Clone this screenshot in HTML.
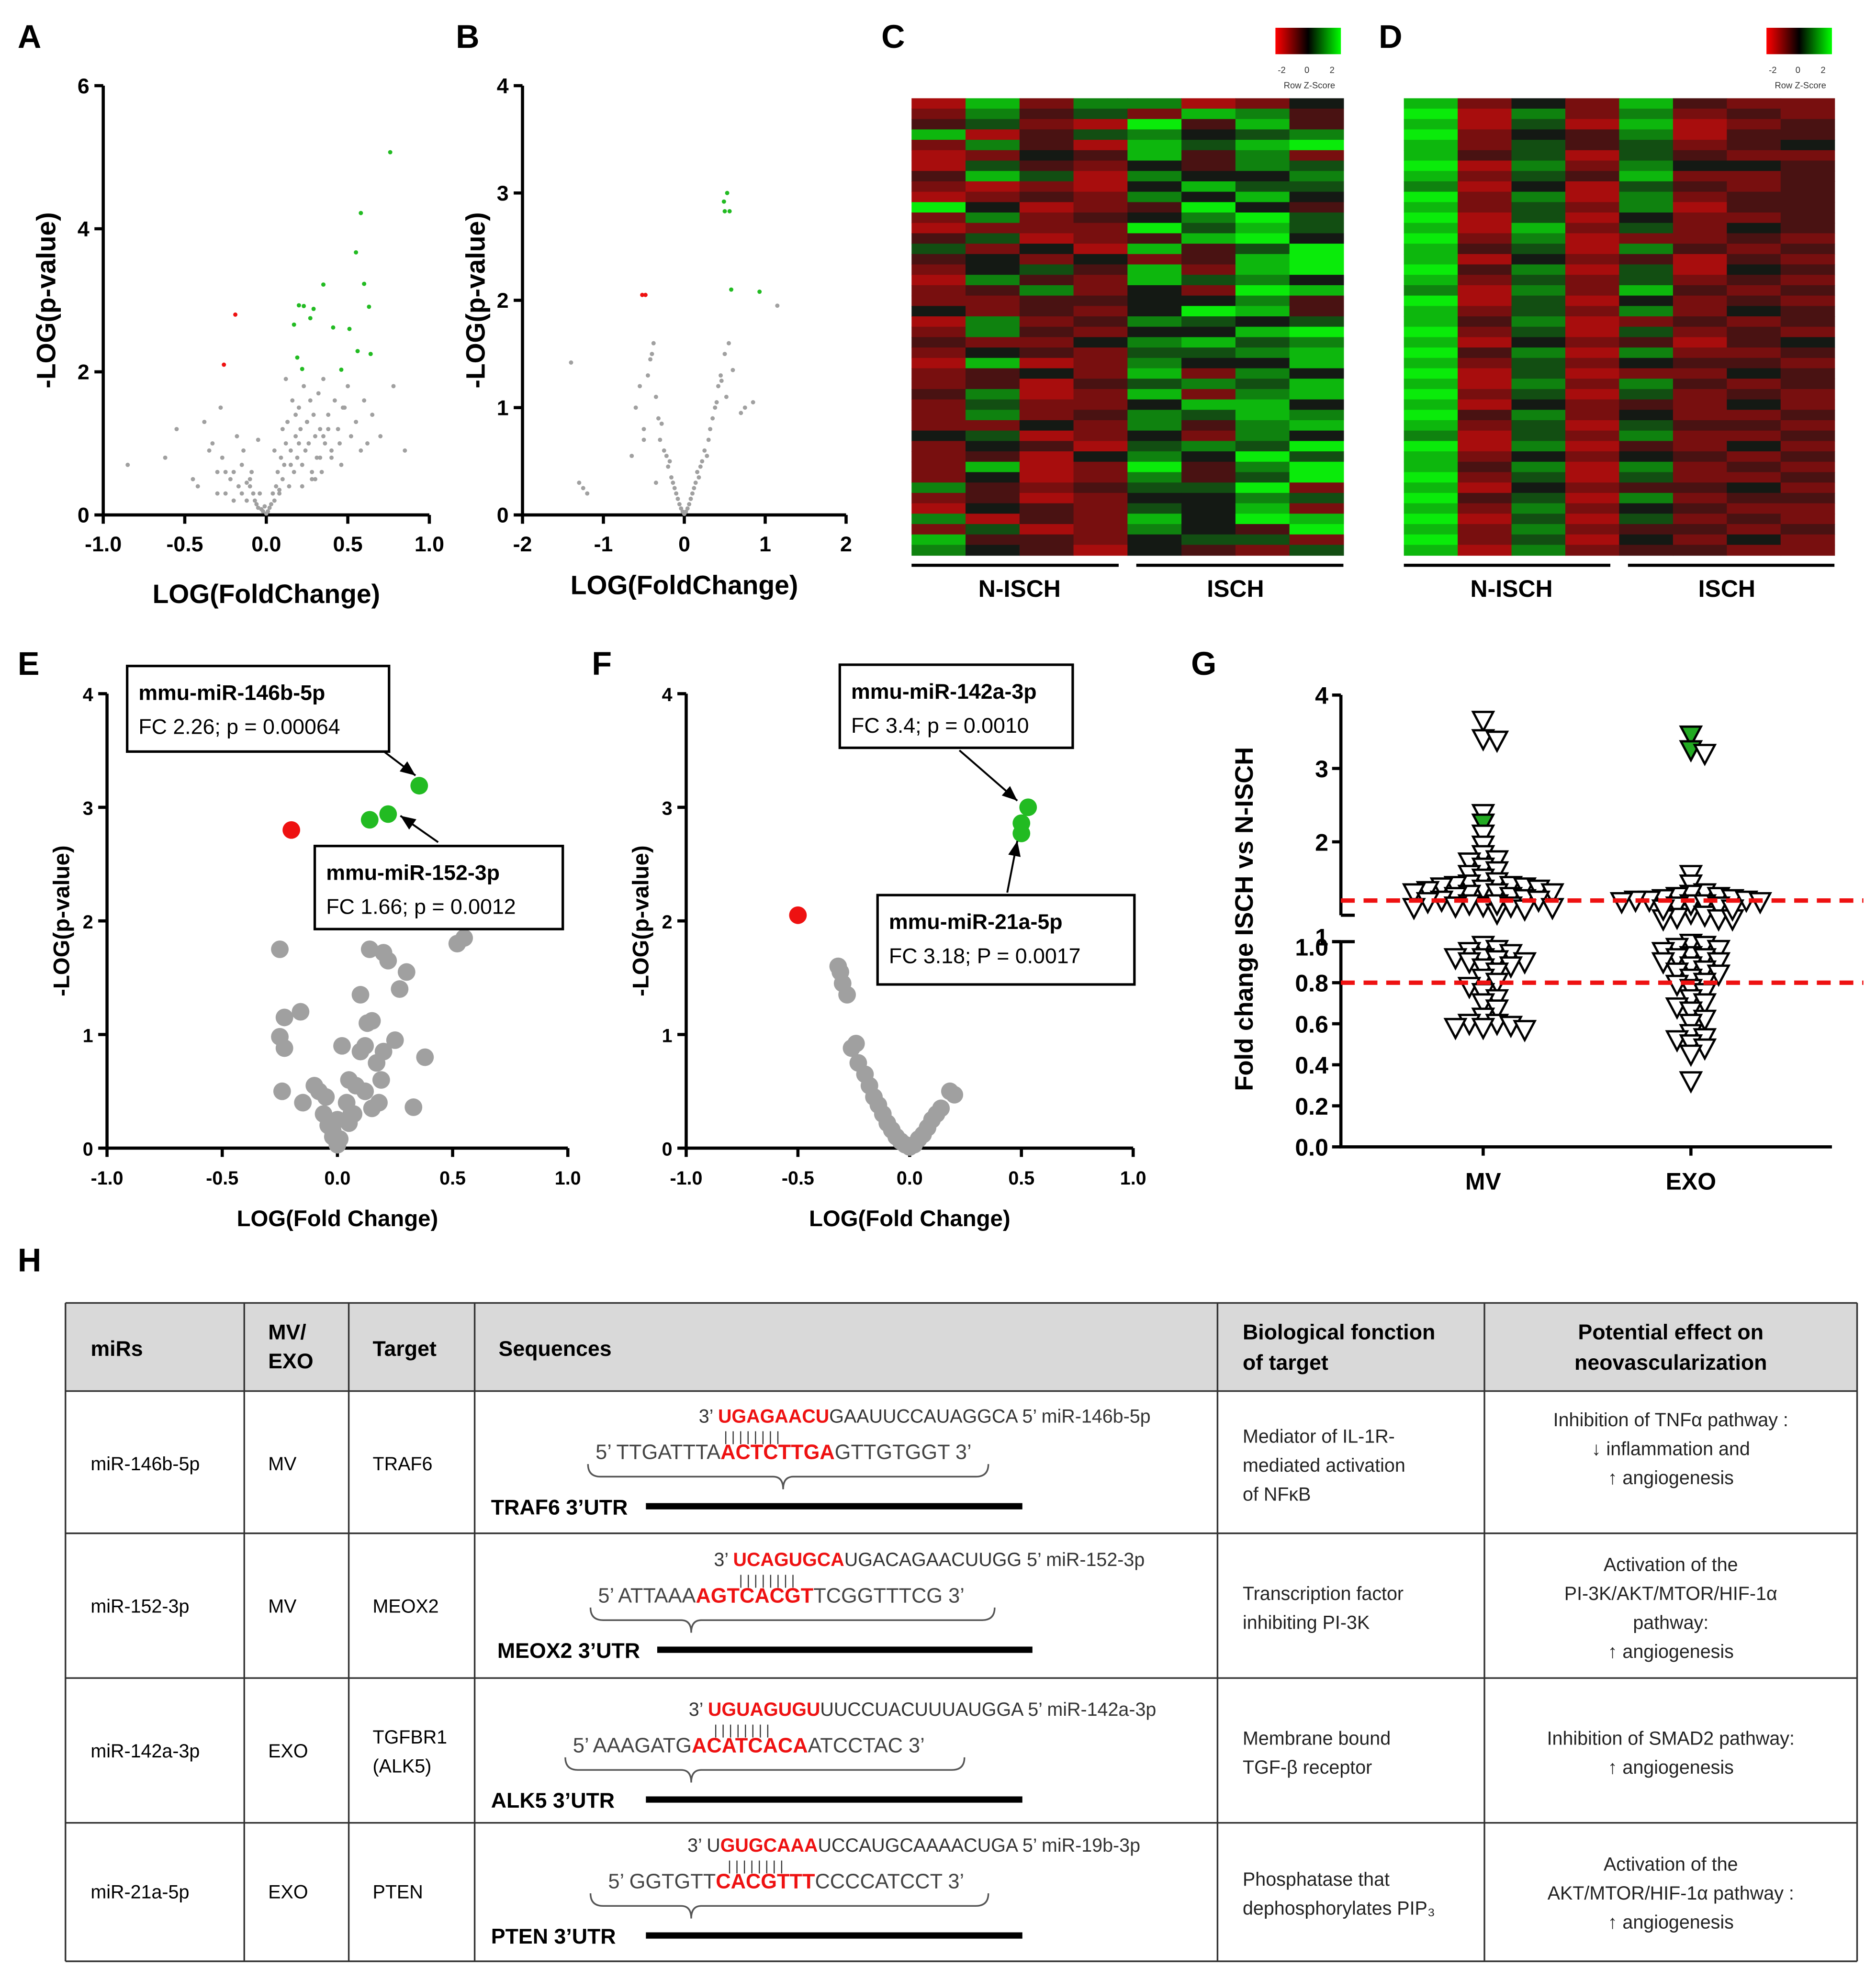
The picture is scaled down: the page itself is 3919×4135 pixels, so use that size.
<!DOCTYPE html>
<html><head><meta charset="utf-8">
<style>
html,body{margin:0;padding:0;background:#fff;}
svg{display:block;font-family:"Liberation Sans",Arial,sans-serif;}
</style></head>
<body>
<svg id="fig" width="3919" height="4135" viewBox="0 0 1490 1572" xmlns="http://www.w3.org/2000/svg"></svg>
<script>
// ---------- DATA ----------
const aGrayX=[-0.85,-0.62,-0.55,-0.45,-0.42,-0.38,-0.35,-0.33,-0.3,-0.28,-0.27,-0.25,-0.22,-0.2,-0.18,-0.17,-0.15,-0.14,-0.12,-0.1,-0.09,-0.08,-0.07,-0.06,-0.05,-0.04,-0.03,-0.02,-0.01,0,0.01,0.02,0.03,0.04,0.05,0.06,0.07,0.08,0.09,0.1,0.11,0.12,0.13,0.14,0.15,0.16,0.17,0.18,0.19,0.2,0.21,0.22,0.23,0.24,0.25,0.26,0.27,0.28,0.29,0.3,0.31,0.32,0.33,0.34,0.35,0.36,0.38,0.4,0.42,0.44,0.46,0.48,0.5,0.52,0.55,0.58,0.6,0.62,0.65,0.7,0.78,0.85,-0.3,-0.25,-0.2,-0.15,-0.1,0.05,0.1,0.15,0.2,0.25,0.3,0.35,0.4,0.45,0.12,0.18,0.22,0.28,0.08,-0.05,-0.12,0.33,0.38,0.47];
const aGrayY=[0.7,0.8,1.2,0.5,0.4,1.3,0.9,1.0,0.6,1.5,0.8,0.3,0.5,0.6,1.1,0.4,0.3,0.9,0.2,0.4,0.6,0.3,0.2,0.15,0.1,0.3,0.08,0.05,0.12,0.02,0.05,0.1,0.15,0.3,0.2,0.4,0.6,0.3,0.8,0.5,0.7,1.0,1.3,0.4,0.9,1.6,0.6,1.1,0.8,1.5,1.2,0.7,1.8,0.9,1.3,1.0,1.6,0.5,1.4,1.1,0.8,1.7,1.2,0.6,1.9,1.0,1.4,0.9,1.6,1.2,0.7,1.5,1.8,1.1,1.3,0.9,1.6,1.0,1.4,1.1,1.8,0.9,0.3,0.6,0.2,0.7,0.5,0.9,1.2,0.7,1.0,1.3,0.5,1.1,0.8,1.0,1.9,1.4,0.4,0.6,0.35,1.05,0.45,0.8,1.2,1.5];
const aGreenX=[0.76,0.58,0.55,0.60,0.35,0.63,0.29,0.20,0.23,0.27,0.17,0.51,0.41,0.19,0.22,0.56,0.64,0.46];
const aGreenY=[5.07,4.22,3.67,3.23,3.22,2.91,2.88,2.93,2.92,2.75,2.66,2.60,2.62,2.20,2.04,2.29,2.25,2.03];
const aRedX=[-0.19,-0.26];
const aRedY=[2.80,2.10];

const bGrayX=[-1.4,-1.3,-1.25,-1.2,-0.65,-0.6,-0.55,-0.5,-0.45,-0.4,-0.38,-0.35,-0.32,-0.3,-0.28,-0.25,-0.22,-0.2,-0.18,-0.16,-0.14,-0.12,-0.1,-0.08,-0.06,-0.04,-0.02,0,0.02,0.04,0.06,0.08,0.1,0.12,0.14,0.16,0.18,0.2,0.22,0.25,0.28,0.3,0.32,0.35,0.38,0.4,0.42,0.45,0.5,0.55,0.6,0.7,0.75,0.85,1.15,-0.5,-0.42,0.46,0.52,-0.35];
const bGrayY=[1.42,0.3,0.25,0.2,0.55,1.0,1.2,0.8,1.3,1.5,1.6,1.1,0.9,0.7,0.85,0.6,0.55,0.45,0.5,0.35,0.3,0.25,0.2,0.15,0.1,0.06,0.03,0.01,0.03,0.06,0.1,0.15,0.2,0.25,0.3,0.4,0.35,0.45,0.5,0.6,0.55,0.7,0.8,0.9,1.0,1.05,1.2,1.3,1.5,1.6,1.35,0.95,1.0,1.05,1.95,0.7,1.45,1.25,1.1,0.3];
const bGreenX=[0.53,0.49,0.50,0.56,0.58,0.93];
const bGreenY=[3.00,2.92,2.83,2.83,2.10,2.08];
const bRedX=[-0.52,-0.48];
const bRedY=[2.05,2.05];

// heatmap rows: digits 0..8 => z = (d-4)/2 (0 red, 4 black, 8 green)
const heatC=["17266124","26352763","35218373","71356456","26317578","12437362","15324365","37516446","21214755","12326474","84123843","26234685","12228575","35123784","52417358","34242378","24537278","16327564","23624287","22334463","42324873","16236545","26324478","32246756","24325567","17126447","23427264","23135657","36127267","25224774","26236576","22426367","45124264","24315658","23146485","27128368","24126358","63235582","23124465","14325472","61327487","25126438","73324552","64314325"];
const heatD=["72427322","81626232","71517123","82436133","72535234","73515322","81626443","72537223","61415323","82616233","72526133","81514223","71725243","82612232","73516323","71423132","83615143","72525232","61627323","81514232","72526243","73612323","82515232","71423134","83616223","72524332","81512243","71626323","82515232","71423242","83624223","72515332","61526223","81613242","72424323","73616232","82515223","71423342","83516233","72624322","81515232","72623323","82514242","71623322"];
const heatCols=8;

const eGrayX=[-0.25,-0.23,-0.25,-0.23,-0.24,-0.16,-0.15,-0.1,-0.08,-0.06,-0.05,-0.04,-0.02,0,0.02,0.04,0.05,0.06,0.08,0.1,0.1,0.12,0.13,0.14,0.15,0.15,0.17,0.18,0.2,0.2,0.22,0.25,0.27,0.3,0.33,0.38,0.55,0.52,0.0,-0.02,0.05,0.07,0.01,0.12,0.19];
const eGrayY=[1.75,1.15,0.98,0.88,0.5,1.2,0.4,0.55,0.5,0.3,0.45,0.2,0.1,0.03,0.9,0.4,0.6,0.3,0.55,0.85,1.35,0.9,1.1,1.75,1.12,0.35,0.75,0.4,1.72,0.85,1.65,0.95,1.4,1.55,0.36,0.8,1.85,1.8,0.25,0.15,0.22,0.3,0.08,0.5,0.6];
const eGreenX=[0.355,0.22,0.14];
const eGreenY=[3.19,2.94,2.89];
const eRedX=[-0.2];
const eRedY=[2.8];

const fGrayX=[-0.32,-0.31,-0.3,-0.28,-0.26,-0.24,-0.23,-0.2,-0.18,-0.16,-0.14,-0.12,-0.1,-0.08,-0.06,-0.04,-0.02,0,0.02,0.04,0.06,0.08,0.1,0.12,0.14,0.18,0.2];
const fGrayY=[1.6,1.55,1.45,1.35,0.88,0.92,0.75,0.65,0.55,0.45,0.38,0.3,0.22,0.16,0.1,0.06,0.03,0.01,0.03,0.08,0.12,0.18,0.25,0.3,0.35,0.5,0.47];
const fGreenX=[0.53,0.50,0.50];
const fGreenY=[3.0,2.86,2.77];
const fRedX=[-0.5];
const fRedY=[2.05];

const gMV=[3.65,3.4,3.38,2.38,2.25,2.1,1.95,1.82,1.75,1.72,1.65,1.6,1.55,1.5,1.45,1.42,1.4,1.4,1.38,1.38,1.35,1.35,1.33,1.3,1.3,1.3,1.28,1.28,1.25,1.25,1.22,1.2,1.2,1.18,1.18,1.15,1.15,1.12,1.12,1.1,1.1,1.08,0.98,0.96,0.95,0.94,0.92,0.92,0.91,0.9,0.9,0.88,0.87,0.85,0.82,0.8,0.78,0.75,0.72,0.7,0.67,0.63,0.6,0.6,0.59,0.58,0.58,0.57];
const gMVGreen=[2.25,1.68];
const gEXO=[3.45,3.25,3.2,1.55,1.42,1.3,1.28,1.25,1.25,1.22,1.22,1.2,1.2,1.2,1.18,1.18,1.18,1.15,1.15,1.15,1.12,1.12,1.12,1.1,1.1,1.1,1.08,1.08,0.99,0.98,0.97,0.96,0.95,0.93,0.92,0.92,0.9,0.9,0.88,0.86,0.85,0.84,0.82,0.8,0.79,0.77,0.75,0.72,0.7,0.68,0.66,0.62,0.6,0.55,0.53,0.52,0.5,0.48,0.45,0.32];
const gEXOGreen=[3.45,3.25];
const gCats=["MV","EXO"];
const gUpperTicks=[1,2,3,4];
const gLowerTicks=[0.0,0.2,0.4,0.6,0.8,1.0];

// ---------- HELPERS ----------
const NS="http://www.w3.org/2000/svg";
const svg=document.getElementById('fig');
function el(tag,attrs,parent){const e=document.createElementNS(NS,tag);for(const k in attrs)e.setAttribute(k,attrs[k]);(parent||svg).appendChild(e);return e;}
function txt(x,y,s,size,weight,anchor,parent,fill){const t=el('text',{x:x,y:y,'font-size':size,'font-weight':weight||'normal','text-anchor':anchor||'start',fill:fill||'#000'},parent);t.textContent=s;return t;}
function grp(name){const g=el('g',{});return g;}

function panelLetter(x,y,s){const t=txt(x,y,s,26,'bold','start');}

function volcano(id,o){
  const g=grp('volcano-plot-'+id);
  const sx=v=>o.x0+(v-o.xmin)/(o.xmax-o.xmin)*(o.x1-o.x0);
  const sy=v=>o.y0-(v-o.ymin)/(o.ymax-o.ymin)*(o.y0-o.y1);
  const ax=el('path',{d:`M${o.x0},${o.y1}V${o.y0}H${o.x1}`,stroke:'#000','stroke-width':2.5,fill:'none'},g);
   
  o.xt.forEach(v=>{el('line',{x1:sx(v),x2:sx(v),y1:o.y0,y2:o.y0+7,stroke:'#000','stroke-width':2.5},g);
    const t=txt(sx(v),o.y0+29,o.xfmt(v),o.tf,'bold','middle',g);});
  o.yt.forEach(v=>{el('line',{x1:o.x0-7,x2:o.x0,y1:sy(v),y2:sy(v),stroke:'#000','stroke-width':2.5},g);
    const t=txt(o.x0-11,sy(v)+6,o.yfmt(v),o.tf,'bold','end',g);});
  const xtit=txt((o.x0+o.x1)/2,o.y0+o.xtoff,o.xtitle,o.af,'bold','middle',g);
  
  const yx=o.x0-o.ytoff, yy=(o.y0+o.y1)/2;
  const ytit=txt(yx,yy,'-LOG(p-value)',o.af,'bold','middle',g);ytit.setAttribute('transform',`rotate(-90 ${yx} ${yy})`);
  
  o.gx.forEach((v,i)=>{const c=el('circle',{cx:sx(v),cy:sy(o.gy[i]),r:o.r,fill:'#a0a0a0'},g);});
  o.rx.forEach((v,i)=>{const c=el('circle',{cx:sx(v),cy:sy(o.ry[i]),r:o.r,fill:'#ee1111'},g);});
  o.grx.forEach((v,i)=>{const c=el('circle',{cx:sx(v),cy:sy(o.gry[i]),r:o.r,fill:'#22bb22'},g);});
  return g;
}
function heatColor(d){const z=(d-4)/2;const t=Math.min(1,Math.abs(z)/2);
  if(z<0)return `rgb(${Math.round(25+190*t)},${Math.round(20-10*t)},${Math.round(20-10*t)})`;
  return `rgb(${Math.round(20-10*t)},${Math.round(25+210*t)},${Math.round(20-10*t)})`;}
function heatmap(id,rows,x0,y0,x1,y1,cbx){
  const g=grp('heatmap-'+id);
  const cw=(x1-x0)/heatCols, ch=(y1-y0)/rows.length;
  rows.forEach((r,ri)=>{for(let ci=0;ci<heatCols;ci++){const c=el('rect',{x:x0+ci*cw,y:y0+ri*ch,width:cw+0.4,height:ch+0.4,fill:heatColor(+r[ci])},g);}});
  const lg=el('defs',{},g);const gr=el('linearGradient',{id:'cb'+id},lg);
  el('stop',{offset:'0',"stop-color":'#ff0000'},gr);el('stop',{offset:'0.5',"stop-color":'#000'},gr);el('stop',{offset:'1',"stop-color":'#00ff00'},gr);
  const cb=el('rect',{x:cbx,y:22,width:52,height:21,fill:`url(#cb${id})`},g);
  ['-2','0','2'].forEach((s,i)=>txt(cbx+5+i*20,58,s,7,'normal','middle',g,'#333'));
  txt(cbx+27,70,'Row Z-Score',7,'normal','middle',g,'#333');
  const mid=(x0+x1)/2;
  el('line',{x1:x0,x2:mid-7,y1:449,y2:449,stroke:'#000','stroke-width':2.5},g);
  el('line',{x1:mid+7,x2:x1,y1:449,y2:449,stroke:'#000','stroke-width':2.5},g);
  const l1=txt((x0+mid)/2,474,'N-ISCH',19,'bold','middle',g);
  const l2=txt((mid+x1)/2,474,'ISCH',19,'bold','middle',g);
}
function callout(g,x,y,w,h,l1,l2,name){
  const r=el('rect',{x:x,y:y,width:w,height:h,fill:'#fff',stroke:'#000','stroke-width':2},g);
  txt(x+9,y+27,l1,17,'bold','start',g);txt(x+9,y+54,l2,17,'normal','start',g);
}
function arrow(g,x1,y1,x2,y2){
  el('line',{x1:x1,y1:y1,x2:x2,y2:y2,stroke:'#000','stroke-width':1.5},g);
  const a=Math.atan2(y2-y1,x2-x1),L=12,W=5;
  const bx=x2-L*Math.cos(a),by=y2-L*Math.sin(a);
  el('polygon',{points:`${x2},${y2} ${bx+W*Math.sin(a)},${by-W*Math.cos(a)} ${bx-W*Math.sin(a)},${by+W*Math.cos(a)}`,fill:'#000'},g);
}

// ---------- PANELS A,B ----------
panelLetter(14,38,'A');panelLetter(362,38,'B');panelLetter(700,38,'C');panelLetter(1095,38,'D');
panelLetter(14,536,'E');panelLetter(470,536,'F');panelLetter(946,536,'G');panelLetter(14,1010,'H');

volcano('a',{x0:82,x1:341,y0:409,y1:68,xmin:-1,xmax:1,ymin:0,ymax:6,xt:[-1,-0.5,0,0.5,1],yt:[0,2,4,6],xfmt:v=>v.toFixed(1),yfmt:v=>String(v),tf:17,af:21,xtitle:'LOG(FoldChange)',xtoff:70,ytoff:38,r:1.7,gx:aGrayX,gy:aGrayY,rx:aRedX,ry:aRedY,grx:aGreenX,gry:aGreenY});
volcano('b',{x0:415,x1:672,y0:409,y1:68,xmin:-2,xmax:2,ymin:0,ymax:4,xt:[-2,-1,0,1,2],yt:[0,1,2,3,4],xfmt:v=>String(v),yfmt:v=>String(v),tf:17,af:21,xtitle:'LOG(FoldChange)',xtoff:63,ytoff:30,r:1.7,gx:bGrayX,gy:bGrayY,rx:bRedX,ry:bRedY,grx:bGreenX,gry:bGreenY});

heatmap('c',heatC,724,78,1067,441,1013);
heatmap('d',heatD,1115,78,1457,441,1403);

// ---------- PANELS E,F ----------
const gE=volcano('e',{x0:85,x1:451,y0:912,y1:551,xmin:-1,xmax:1,ymin:0,ymax:4,xt:[-1,-0.5,0,0.5,1],yt:[0,1,2,3,4],xfmt:v=>v.toFixed(1),yfmt:v=>String(v),tf:15,af:18,xtitle:'LOG(Fold Change)',xtoff:62,ytoff:30,r:7,gx:eGrayX,gy:eGrayY,rx:eRedX,ry:eRedY,grx:eGreenX,gry:eGreenY});
callout(gE,101,529,208,68,'mmu-miR-146b-5p','FC 2.26; p = 0.00064','callout-mir-146b');
arrow(gE,305,597,330,616);
callout(gE,250,672,197,66,'mmu-miR-152-3p','FC 1.66; p = 0.0012','callout-mir-152');
arrow(gE,348,669,318,648);

const gF=volcano('f',{x0:545,x1:900,y0:912,y1:551,xmin:-1,xmax:1,ymin:0,ymax:4,xt:[-1,-0.5,0,0.5,1],yt:[0,1,2,3,4],xfmt:v=>v.toFixed(1),yfmt:v=>String(v),tf:15,af:18,xtitle:'LOG(Fold Change)',xtoff:62,ytoff:30,r:7,gx:fGrayX,gy:fGrayY,rx:fRedX,ry:fRedY,grx:fGreenX,gry:fGreenY});
callout(gF,667,528,185,66,'mmu-miR-142a-3p','FC 3.4; p = 0.0010','callout-mir-142a');
arrow(gF,762,596,808,636);
callout(gF,697,711,204,71,'mmu-miR-21a-5p','FC 3.18; P = 0.0017','callout-mir-21a');
arrow(gF,800,709,808,668);

// ---------- PANEL G ----------
(function(){
  const g=grp('dot-plot-g');
  const X0=1065,X1=1455;
  const sy=v=>v<=1?911-v*163:727-(v-1)*58.3;
  const cx=[1178,1343];
  el('path',{d:`M${X0},552V727`,stroke:'#000','stroke-width':2.5,fill:'none'},g);
  el('path',{d:`M${X0},748V911H${X1}`,stroke:'#000','stroke-width':2.5,fill:'none'},g);
  el('line',{x1:X0,x2:X0+11,y1:727,y2:727,stroke:'#000','stroke-width':2.5},g);
  el('line',{x1:X0,x2:X0+11,y1:748,y2:748,stroke:'#000','stroke-width':2.5},g);
  gUpperTicks.forEach(v=>{el('line',{x1:X0-7,x2:X0,y1:sy(v),y2:sy(v),stroke:'#000','stroke-width':2.5},g);
    const t=txt(X0-10,sy(v)+(v===1?3:7),String(v),19,'bold','end',g);});
  gLowerTicks.forEach(v=>{const y=v===1?748:sy(v);el('line',{x1:X0-7,x2:X0,y1:y,y2:y,stroke:'#000','stroke-width':2.5},g);
    const t=txt(X0-10,y+(v===1?11:7),v.toFixed(1),19,'bold','end',g);});
  const yt=txt(995,730,'Fold change ISCH vs N-ISCH',20,'bold','middle',g);yt.setAttribute('transform','rotate(-90 995 730)');
  
  gCats.forEach((c,i)=>{el('line',{x1:cx[i],x2:cx[i],y1:911,y2:918,stroke:'#000','stroke-width':2.5},g);
    const t=txt(cx[i],945,c,19,'bold','middle',g);});
  function swarm(vals,greens,cxx){
    const placed=[];
    vals.forEach(v=>{let y=sy(v);let k=0,x=cxx,found=false;
      for(let layer=0;layer<4&&!found;layer++){
        const yy=y+layer*9;
        for(k=0;k<11;k++){const off=(k%2?1:-1)*Math.ceil(k/2)*11;x=cxx+off;
          if(!placed.some(p=>Math.abs(p[0]-x)<11&&Math.abs(p[1]-yy)<7)){y=yy;found=true;break;}}
      }
      placed.push([x,y]);
      const isG=greens.indexOf(v)>=0;
      const tr=el('polygon',{points:`${x-8},${y-7} ${x+8},${y-7} ${x},${y+8}`,fill:isG?'#22aa22':'#fff',stroke:'#000','stroke-width':1.8},g);
      });
  }
  swarm(gMV,gMVGreen,cx[0]);swarm(gEXO,gEXOGreen,cx[1]);
  [1.2,0.8].forEach(v=>{const l=el('line',{x1:X0,x2:1480,y1:sy(v),y2:sy(v),stroke:'#ee1111','stroke-width':3.5,'stroke-dasharray':'11 7'},g);});
})();

// ---------- TABLE H ----------
(function(){
  const g=grp('table-h');
  const cols=[52,194,277,377,967,1179,1475];
  const rows=[1035,1105,1218,1333,1448,1558];
  el('rect',{x:52,y:1035,width:1423,height:70,fill:'#d9d9d9'},g);
  cols.forEach(x=>el('line',{x1:x,x2:x,y1:1035,y2:1558,stroke:'#333','stroke-width':1.3},g));
  rows.forEach(y=>el('line',{x1:52,x2:1475,y1:y,y2:y,stroke:'#333','stroke-width':1.3},g));
  const H=17,F=15;
  txt(72,1077,'miRs',H,'bold','start',g);txt(213,1064,'MV/',H,'bold','start',g);txt(213,1087,'EXO',H,'bold','start',g);
  txt(296,1077,'Target',H,'bold','start',g);txt(396,1077,'Sequences',H,'bold','start',g);
  txt(987,1064,'Biological fonction',H,'bold','start',g);txt(987,1088,'of target',H,'bold','start',g);
  txt(1327,1064,'Potential effect on',H,'bold','middle',g);txt(1327,1088,'neovascularization',H,'bold','middle',g);
  const data=[
    {c:[1163],mir:'miR-146b-5p',mv:'MV',tg:['TRAF6'],s1x:555,s1y:1130,s1:['3\u2019 ','UGAGAACU','GAAUUCCAUAGGCA 5\u2019  miR-146b-5p'],s2x:473,s2:['5\u2019 TTGATTTA','ACTCTTGA','GTTGTGGT 3\u2019'],bx:[467,785],bc:622,bars:575,lab:'TRAF6 3\u2019UTR',lx:390,bar:[513,812],bio:['Mediator of IL-1R-','mediated activation','of NF\u03baB'],bioy:1146,eff:['Inhibition of TNF\u03b1 pathway :','\u2193 inflammation and','\u2191 angiogenesis'],effy:1133},
    {c:[1276],mir:'miR-152-3p',mv:'MV',tg:['MEOX2'],s1x:567,s1y:1244,s1:['3\u2019 ','UCAGUGCA','UGACAGAACUUGG 5\u2019  miR-152-3p'],s2x:475,s2:['5\u2019 ATTAAA','AGTCACGT','TCGGTTTCG 3\u2019'],bx:[469,790],bc:549,bars:587,lab:'MEOX2 3\u2019UTR',lx:395,bar:[522,820],bio:['Transcription factor','inhibiting PI-3K'],bioy:1271,eff:['Activation of the','PI-3K/AKT/MTOR/HIF-1\u03b1','pathway:','\u2191 angiogenesis'],effy:1248},
    {c:[1391],mir:'miR-142a-3p',mv:'EXO',tg:['TGFBR1','(ALK5)'],s1x:547,s1y:1363,s1:['3\u2019 ','UGUAGUGU','UUCCUACUUUAUGGA 5\u2019  miR-142a-3p'],s2x:455,s2:['5\u2019 AAAGATG','ACATCACA','ATCCTAC 3\u2019'],bx:[449,766],bc:549,bars:567,lab:'ALK5 3\u2019UTR',lx:390,bar:[513,812],bio:['Membrane bound','TGF-\u03b2 receptor'],bioy:1386,eff:['Inhibition of SMAD2 pathway:','\u2191 angiogenesis'],effy:1386},
    {c:[1503],mir:'miR-21a-5p',mv:'EXO',tg:['PTEN'],s1x:546,s1y:1471,s1:['3\u2019 U','GUGCAAA','UCCAUGCAAAACUGA 5\u2019  miR-19b-3p'],s2x:483,s2:['5\u2019 GGTGTT','CACGTTT','CCCCATCCT 3\u2019'],bx:[469,785],bc:549,bars:578,lab:'PTEN 3\u2019UTR',lx:390,bar:[513,812],bio:['Phosphatase that','dephosphorylates PIP\u2083'],bioy:1498,eff:['Activation of the','AKT/MTOR/HIF-1\u03b1 pathway :','\u2191 angiogenesis'],effy:1486}
  ];
  data.forEach((d,ri)=>{
    const rg=el('g',{},g);
    const cy=d.c[0]+5;
    txt(72,cy,d.mir,F,'normal','start',rg);txt(213,cy,d.mv,F,'normal','start',rg);
    if(d.tg.length===1)txt(296,cy,d.tg[0],F,'normal','start',rg);else{txt(296,cy-11,d.tg[0],F,'normal','start',rg);txt(296,cy+12,d.tg[1],F,'normal','start',rg);}
    const t1=el('text',{x:d.s1x,y:d.s1y,'font-size':15},rg);
    d.s1.forEach((p,i)=>{const ts=el('tspan',{fill:i===1?'#ee1111':'#333','font-weight':i===1?'bold':'normal'},t1);ts.textContent=p;});
    const t2=el('text',{x:d.s2x,y:d.s1y+29,'font-size':16.5},rg);
    d.s2.forEach((p,i)=>{const ts=el('tspan',{fill:i===1?'#ee1111':'#444','font-weight':i===1?'bold':'normal'},t2);ts.textContent=p;});
    txt(d.bars,d.s1y+15,'| | | | | | | |',11,'normal','start',rg,'#333');
    const y0=d.s1y+33;
    el('path',{d:`M${d.bx[0]},${y0} q0,10 10,10 H${d.bc-8} q8,0 8,10 q0,-10 8,-10 H${d.bx[1]-10} q10,0 10,-10`,stroke:'#555','stroke-width':1.3,fill:'none'},rg);
    txt(d.lx,d.s1y+73,d.lab,17,'bold','start',rg);
    el('rect',{x:d.bar[0],y:d.s1y+64,width:d.bar[1]-d.bar[0],height:5,fill:'#000'},rg);
    d.bio.forEach((s,i)=>txt(987,d.bioy+i*23,s,F,'normal','start',rg,'#222'));
    d.eff.forEach((s,i)=>txt(1327,d.effy+i*23,s,F,'normal','middle',rg,'#222'));
  });
})();
</script>
</body></html>
